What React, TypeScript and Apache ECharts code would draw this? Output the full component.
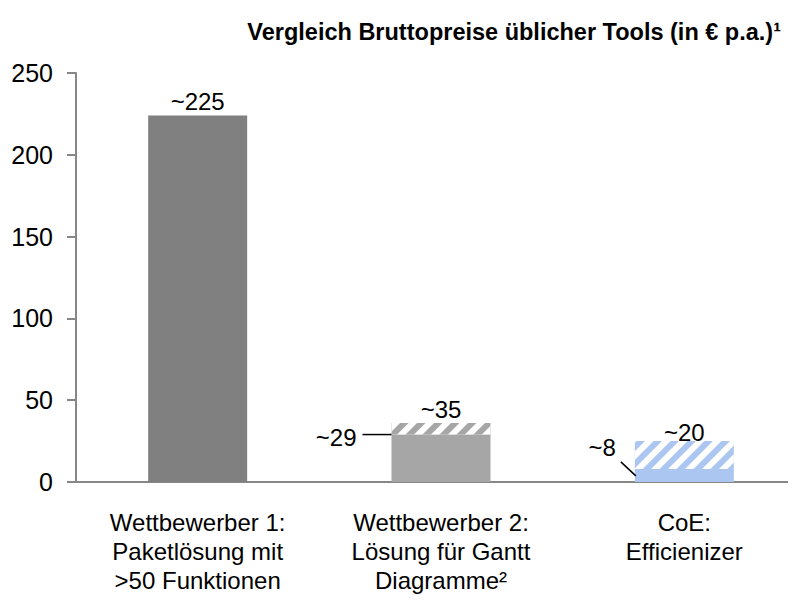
import React, { useEffect, useRef } from "react";
import * as echarts from "echarts";

const categories = [
  "Wettbewerber 1:\nPaketlösung mit\n>50 Funktionen",
  "Wettbewerber 2:\nLösung für Gantt\nDiagramme²",
  "CoE:\nEfficienizer",
];
const baseValues = [224, 29, 8];
const hatchedValues: (number | null)[] = [null, 7, 17];
const barColors = ["#808080", "#a6a6a6", "#abc6f0"];

const annoCats = [0, 1, 2, 1, 2];
const annoValues = [224, 36, 25, 29, 8];
const annoTexts = ["~225", "~35", "~20", "~29", "~8"];
const annoKinds = ["top", "top", "topTight", "leftLine", "diagLine"];

const titleText = "Vergleich Bruttopreise üblicher Tools (in € p.a.)¹";
const yMin = 0;
const yMax = 250;
const yInterval = 50;

const FONT = "'Liberation Sans', Arial, sans-serif";
const HALF_BAR = 49.5;
const CHART_W = 830;

export default function App() {
  const ref = useRef<HTMLDivElement>(null);
  useEffect(() => {
    if (!ref.current) return;
    const chart = echarts.init(ref.current, undefined, { renderer: "svg" });
    const decal = {
      symbol: "rect",
      symbolSize: 1,
      color: "#ffffff",
      dashArrayX: [1, 0],
      dashArrayY: [6, 6],
      rotation: -Math.PI / 4,
    };
    chart.setOption({
      animation: false,
      backgroundColor: "#ffffff",
      title: {
        text: titleText,
        right: CHART_W - 786,
        top: 15,
        textStyle: {
          fontFamily: FONT,
          fontSize: 23.5,
          fontWeight: "bold",
          color: "#000",
        },
      },
      grid: { left: 76, top: 73, width: 730, bottom: 126, containLabel: false },
      xAxis: {
        type: "category",
        data: categories,
        axisLine: { lineStyle: { color: "#878787", width: 2 } },
        axisTick: { show: false },
        axisLabel: {
          color: "#000",
          fontFamily: FONT,
          fontSize: 24,
          lineHeight: 29,
          margin: 26,
          interval: 0,
        },
      },
      yAxis: {
        type: "value",
        min: yMin,
        max: yMax,
        interval: yInterval,
        splitLine: { show: false },
        axisLine: { show: true, lineStyle: { color: "#878787", width: 2 } },
        axisTick: {
          show: true,
          length: 9,
          lineStyle: { color: "#878787", width: 2 },
        },
        axisLabel: {
          color: "#000",
          fontFamily: FONT,
          fontSize: 25,
          margin: 23,
        },
      },
      series: [
        {
          type: "bar",
          stack: "a",
          barWidth: 99,
          data: baseValues.map((v, i) => ({
            value: v,
            itemStyle: { color: barColors[i] },
          })),
        },
        {
          type: "bar",
          stack: "a",
          barWidth: 99,
          data: hatchedValues.map((v, i) => ({
            value: v == null ? "-" : v,
            itemStyle: { color: barColors[i], decal },
          })),
        },
        {
          type: "custom",
          clip: false,
          z: 10,
          data: annoCats.map((c, i) => [c, annoValues[i]]),
          renderItem: (params: any, api: any) => {
            const i = params.dataIndex;
            const pt = api.coord([api.value(0), api.value(1)]);
            const kind = annoKinds[i];
            const text = annoTexts[i];
            const ts = {
              text,
              fill: "#000",
              fontSize: 24,
              fontFamily: FONT,
            };
            if (kind === "top" || kind === "topTight") {
              return {
                type: "text",
                x: pt[0],
                y: pt[1] - (kind === "top" ? 14 : 9),
                style: { ...ts, align: "center", verticalAlign: "middle" },
              };
            }
            const left = pt[0] - HALF_BAR;
            if (kind === "leftLine") {
              return {
                type: "group",
                children: [
                  {
                    type: "line",
                    shape: { x1: left - 29, y1: pt[1], x2: left, y2: pt[1] },
                    style: { stroke: "#000", lineWidth: 1.5 },
                  },
                  {
                    type: "text",
                    x: left - 35,
                    y: pt[1] + 3,
                    style: { ...ts, align: "right", verticalAlign: "middle" },
                  },
                ],
              };
            }
            return {
              type: "group",
              children: [
                {
                  type: "line",
                  shape: { x1: left - 14, y1: pt[1] - 7, x2: left + 1, y2: pt[1] + 7 },
                  style: { stroke: "#000", lineWidth: 1.5 },
                },
                {
                  type: "text",
                  x: left - 19,
                  y: pt[1] - 21,
                  style: { ...ts, align: "right", verticalAlign: "middle" },
                },
              ],
            };
          },
        },
      ],
    });
    return () => chart.dispose();
  }, []);
  return (
    <div style={{ width: 796, height: 608, margin: -8, overflow: "hidden" }}>
      <div ref={ref} style={{ width: CHART_W, height: 608 }} />
    </div>
  );
}
